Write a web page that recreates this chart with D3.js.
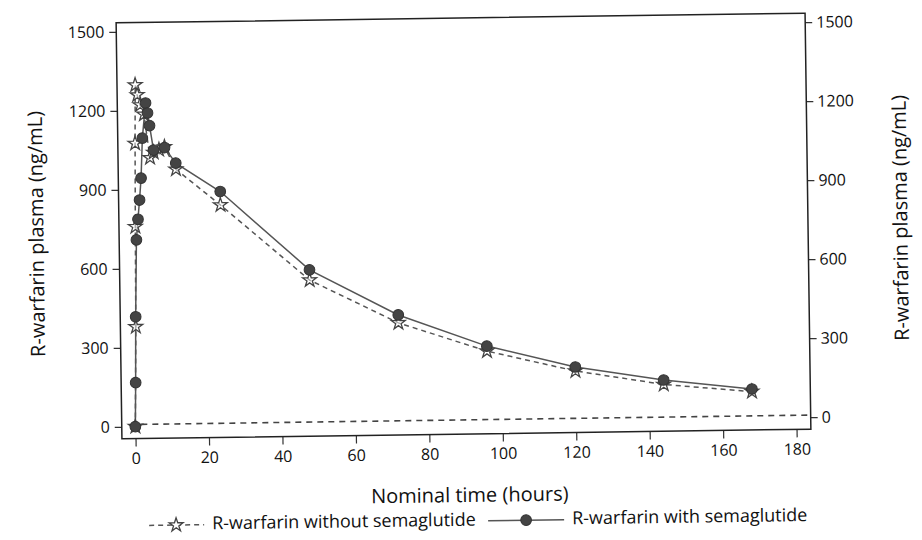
<!DOCTYPE html>
<html>
<head>
<meta charset="utf-8">
<script src="https://cdn.jsdelivr.net/npm/d3@7"></script>
<style>
  body { margin: 0; background: #fff; }
  svg text { font-family: "Open Sans", sans-serif; fill: #111; }
</style>
</head>
<body>
<div id="chart"></div>
<script>
// values (hours, ng/mL)
const timeWith = [0, 0.25, 0.5, 1, 1.5, 2, 2.5, 3, 4, 4.5, 5, 6, 9, 12, 24, 48, 72, 96, 120, 144, 168];
const concWith = [0, 167, 417, 709, 787, 860, 943, 1095, 1228, 1190, 1142, 1049, 1058, 998, 888, 586, 410, 287, 203, 149, 110];

const timeWithout = [0, 0.5, 0.75, 1, 1.25, 1.75, 2.5, 3.5, 5, 6, 7.5, 9, 12, 24, 48, 72, 96, 120, 144, 168];
const concWithout = [0, 379, 759, 1075, 1297, 1259, 1221, 1185, 1020, 1040, 1050, 1060, 975, 837, 547, 380, 268, 188, 132, 100];

const xTicks = [0, 20, 40, 60, 80, 100, 120, 140, 160, 180];
const yTicks = [0, 300, 600, 900, 1200, 1500];
const refLevel = 8;

const width = 922, height = 540;
const frame = { left: 119, top: 18, right: 808, bottom: 434 };

const svg = d3.select("#chart")
  .append("svg")
  .attr("width", width)
  .attr("height", height);

// the scanned figure is tilted a little
const g = svg.append("g")
  .attr("transform", "rotate(-0.8, 464, 226)");

const x = d3.scaleLinear()
  .domain([-3.7, 183.9])
  .range([frame.left, frame.right]);

const y = d3.scaleLinear()
  .domain([-45.6, 1534])
  .range([frame.bottom, frame.top]);

// axes
const xAxis = g.append("g")
  .attr("transform", `translate(0,${frame.bottom})`)
  .call(d3.axisBottom(x).tickValues(xTicks).tickFormat(d => d).tickSize(8).tickPadding(6));

const yAxisL = g.append("g")
  .attr("transform", `translate(${frame.left},0)`)
  .call(d3.axisLeft(y).tickValues(yTicks).tickFormat(d => d).tickSize(7).tickPadding(5));

const yAxisR = g.append("g")
  .attr("transform", `translate(${frame.right},0)`)
  .call(d3.axisRight(y).tickValues(yTicks).tickFormat(d => d).tickSize(7).tickPadding(4));

[xAxis, yAxisL, yAxisR].forEach(a => {
  a.select(".domain").remove();
  a.selectAll(".tick line").attr("stroke", "#333").attr("stroke-width", 1.2);
  a.selectAll(".tick text").style("font-size", "16px").attr("fill", "#111");
});

g.append("rect")
  .attr("x", frame.left)
  .attr("y", frame.top)
  .attr("width", frame.right - frame.left)
  .attr("height", frame.bottom - frame.top)
  .attr("fill", "none")
  .attr("stroke", "#222")
  .attr("stroke-width", 1.5);

// reference line near zero
g.append("line")
  .attr("x1", x(0) + 6)
  .attr("x2", frame.right)
  .attr("y1", y(refLevel))
  .attr("y2", y(refLevel))
  .attr("stroke", "#444")
  .attr("stroke-width", 1.6)
  .attr("stroke-dasharray", "6,5");

// titles
g.append("text")
  .attr("transform", "translate(38,228) rotate(-90)")
  .attr("text-anchor", "middle")
  .attr("dominant-baseline", "middle")
  .style("font-size", "20px")
  .text("R-warfarin plasma (ng/mL)");

g.append("text")
  .attr("transform", "translate(902,224) rotate(-90)")
  .attr("text-anchor", "middle")
  .attr("dominant-baseline", "middle")
  .style("font-size", "20px")
  .text("R-warfarin plasma (ng/mL)");

g.append("text")
  .attr("x", 466)
  .attr("y", 502)
  .attr("text-anchor", "middle")
  .style("font-size", "20px")
  .text("Nominal time (hours)");

// series
const lineWith = d3.line().x((d, i) => x(timeWith[i])).y(d => y(d));
const lineWithout = d3.line().x((d, i) => x(timeWithout[i])).y(d => y(d));

g.append("path")
  .datum(concWithout)
  .attr("d", lineWithout)
  .attr("fill", "none")
  .attr("stroke", "#555")
  .attr("stroke-width", 1.5)
  .attr("stroke-dasharray", "5,4");

g.append("path")
  .datum(concWith)
  .attr("d", lineWith)
  .attr("fill", "none")
  .attr("stroke", "#555")
  .attr("stroke-width", 1.5);

const star = d3.symbol().type(d3.symbolStar).size(60);
const dot = d3.symbol().type(d3.symbolCircle).size(90);

g.selectAll(".star")
  .data(concWithout)
  .enter()
  .append("path")
  .attr("class", "star")
  .attr("d", star)
  .attr("transform", (d, i) => `translate(${x(timeWithout[i])},${y(d)})`)
  .attr("fill", "#fff")
  .attr("fill-opacity", 0.5)
  .attr("stroke", "#444")
  .attr("stroke-width", 1.3);

g.selectAll(".dot")
  .data(concWith)
  .enter()
  .append("path")
  .attr("class", "dot")
  .attr("d", dot)
  .attr("transform", (d, i) => `translate(${x(timeWith[i])},${y(d)})`)
  .attr("fill", "#444")
  .attr("stroke", "#333")
  .attr("stroke-width", 1);

// legend
const legend = g.append("g").attr("transform", "translate(0,521)");

legend.append("line")
  .attr("x1", 145).attr("x2", 200)
  .attr("stroke", "#555").attr("stroke-width", 1.5)
  .attr("stroke-dasharray", "5,4");
legend.append("path")
  .attr("d", star)
  .attr("transform", "translate(172,0)")
  .attr("fill", "#fff")
  .attr("stroke", "#444")
  .attr("stroke-width", 1.3);
legend.append("text")
  .attr("x", 208).attr("y", 0)
  .attr("dominant-baseline", "middle")
  .style("font-size", "18px")
  .text("R-warfarin without semaglutide");

legend.append("line")
  .attr("x1", 484).attr("x2", 560)
  .attr("stroke", "#555").attr("stroke-width", 1.5);
legend.append("path")
  .attr("d", dot)
  .attr("transform", "translate(522,0)")
  .attr("fill", "#444")
  .attr("stroke", "#333");
legend.append("text")
  .attr("x", 568).attr("y", 0)
  .attr("dominant-baseline", "middle")
  .style("font-size", "18px")
  .text("R-warfarin with semaglutide");
</script>
</body>
</html>
